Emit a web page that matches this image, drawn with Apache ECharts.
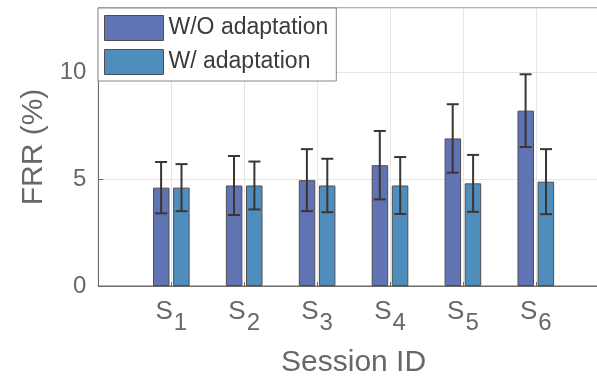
<!DOCTYPE html>
<html>
<head>
<meta charset="utf-8">
<script src="https://cdn.jsdelivr.net/npm/echarts@6/dist/echarts.min.js"></script>
<style>
  html, body { margin: 0; padding: 0; background: #fff; overflow: hidden; }
  #chart { width: 597px; height: 381px; }
</style>
</head>
<body>
<div id="chart"></div>
<script>
// False rejection rate per session, mean and spread (%)
const sessions = ['S1', 'S2', 'S3', 'S4', 'S5', 'S6'];
const frrWithout = [4.6, 4.7, 4.95, 5.65, 6.9, 8.2];
const errWithout = [1.2, 1.38, 1.45, 1.6, 1.6, 1.7];
const frrWith = [4.6, 4.7, 4.7, 4.7, 4.8, 4.88];
const errWith = [1.1, 1.12, 1.25, 1.33, 1.33, 1.52];
const seriesNames = ['W/O adaptation', 'W/ adaptation'];
const yTicks = [0, 5, 10];

const textColor = '#6b6762';
const axisColor = '#6e6a66';
const gridColor = '#e6e6e6';
const colors = ['#6073b2', '#4f8dbd'];
const barW = 16.5;
const barShift = 10.2;   // half of bar width plus gap, px

// Blank slots at both ends give the axis room on either side
const cats = [''].concat(sessions, ['']);
const pad = arr => [null].concat(arr, [null]);

function errorSeries(means, errs, side) {
  return {
    type: 'custom',
    z: 5,
    silent: true,
    encode: { x: 0, y: 1 },
    data: means.map((m, i) => [i + 1, m, errs[i]]),
    renderItem: function (params, api) {
      const x = api.value(0), m = api.value(1), e = api.value(2);
      const hi = api.coord([x, m + e]);
      const lo = api.coord([x, m - e]);
      const cx = hi[0] + side * barShift;
      const cap = 6;
      const st = { stroke: '#3e3530', lineWidth: 2 };
      return {
        type: 'group',
        children: [
          { type: 'line', shape: { x1: cx, y1: hi[1], x2: cx, y2: lo[1] }, style: st },
          { type: 'line', shape: { x1: cx - cap, y1: hi[1], x2: cx + cap, y2: hi[1] }, style: st },
          { type: 'line', shape: { x1: cx - cap, y1: lo[1], x2: cx + cap, y2: lo[1] }, style: st }
        ]
      };
    }
  };
}

const chart = echarts.init(document.getElementById('chart'), null, { renderer: 'canvas' });
chart.setOption({
  animation: false,
  backgroundColor: '#fff',
  textStyle: { fontFamily: 'Liberation Sans, Arial, sans-serif' },
  grid: {
    left: 98.4, top: 8, height: 278, width: 510.3,
    containLabel: false,
    outerBoundsMode: 'none',
    show: true, borderColor: axisColor, borderWidth: 1, backgroundColor: 'transparent'
  },
  legend: {
    orient: 'vertical',
    left: 98, top: 8,
    data: seriesNames.map(n => ({ name: n, icon: 'rect' })),
    backgroundColor: '#fff',
    borderColor: '#8a8580',
    borderWidth: 1,
    padding: [7, 8, 6, 6],
    itemWidth: 59,
    itemHeight: 25,
    itemGap: 8,
    itemStyle: { borderColor: '#4e4e52', borderWidth: 1 },
    textStyle: { fontSize: 23, color: '#3e3a36' }
  },
  xAxis: {
    type: 'category',
    data: cats,
    boundaryGap: false,
    name: 'Session ID',
    nameLocation: 'middle',
    nameGap: 62,
    nameTextStyle: { fontSize: 30, color: textColor },
    axisLine: { lineStyle: { color: axisColor, width: 1 } },
    axisTick: { show: true, inside: true, length: 4, lineStyle: { color: axisColor } },
    splitLine: { show: true, lineStyle: { color: gridColor, width: 1 } },
    axisLabel: {
      margin: 13,
      interval: 0,
      color: textColor,
      formatter: v => v ? '{s|S}{sub|' + v.slice(1) + '}' : '',
      rich: {
        s: { fontSize: 26, color: textColor, verticalAlign: 'top' },
        sub: { fontSize: 24, color: textColor, verticalAlign: 'top', padding: [12, 0, 0, 1] }
      }
    }
  },
  yAxis: {
    type: 'value',
    min: 0, max: 13, interval: 5,
    name: 'FRR (%)',
    nameLocation: 'middle',
    nameGap: 50,
    nameTextStyle: { fontSize: 30, color: textColor },
    axisLine: { show: true, lineStyle: { color: axisColor, width: 1 } },
    axisTick: { show: true, inside: true, length: 5, lineStyle: { color: axisColor } },
    splitLine: { show: true, lineStyle: { color: gridColor, width: 1 } },
    axisLabel: {
      margin: 12,
      fontSize: 24,
      padding: [4, 0, 0, 0],
      color: textColor,
      formatter: v => yTicks.indexOf(v) >= 0 ? String(v) : ''
    }
  },
  series: [
    {
      name: seriesNames[0], type: 'bar', data: pad(frrWithout),
      barWidth: barW, barGap: '22%',
      itemStyle: { color: colors[0], borderColor: '#4e4e52', borderWidth: 1 }
    },
    {
      name: seriesNames[1], type: 'bar', data: pad(frrWith),
      barWidth: barW, barGap: '22%',
      itemStyle: { color: colors[1], borderColor: '#4e4e52', borderWidth: 1 }
    },
    errorSeries(frrWithout, errWithout, -1),
    errorSeries(frrWith, errWith, 1)
  ]
});
</script>
</body>
</html>
